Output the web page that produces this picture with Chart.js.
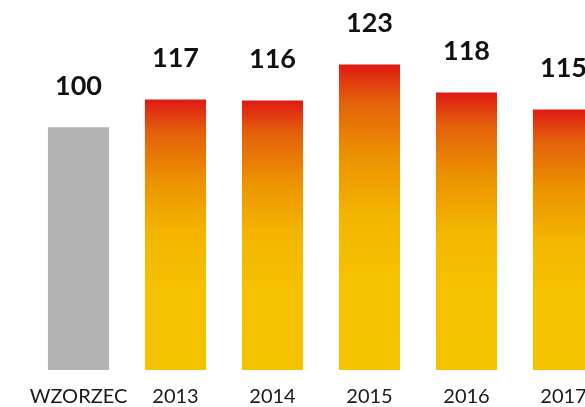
<!DOCTYPE html>
<html>
<head>
<meta charset="utf-8">
<script src="https://cdn.jsdelivr.net/npm/chart.js@4/dist/chart.umd.min.js"></script>
<style>
  html, body { margin: 0; padding: 0; background: #fff; overflow: hidden; }
  #wrap { width: 640px; height: 407px; overflow: hidden; }
</style>
</head>
<body>
<div id="wrap"><canvas id="chart" width="640" height="424"></canvas></div>
<script>
// categories shown on the x axis
var categories = ['WZORZEC', '2013', '2014', '2015', '2016', '2017'];
// bar heights (reference bar = 100)
var barHeights = [100, 111.5, 111.1, 125.9, 114.4, 107.4];
// numbers printed above the bars
var valueLabels = ['100', '117', '116', '123', '118', '115'];

var GREY = '#b3b3b3';

/**
 * Vertical gradient for one bar, red at its top and yellow at the base
 */
function barGradient(context) {
    var chart = context.chart;
    if (!chart.chartArea || context.dataIndex === undefined) {
        return '#f5c200';
    }
    if (context.dataIndex === 0) {
        return GREY;
    }
    var y = chart.scales.y;
    var top = y.getPixelForValue(barHeights[context.dataIndex]);
    var bottom = y.getPixelForValue(0);
    var g = chart.ctx.createLinearGradient(0, top, 0, bottom);
    g.addColorStop(0, '#df1a14');
    g.addColorStop(0.12, '#e4600c');
    g.addColorStop(0.3, '#ec9200');
    g.addColorStop(0.5, '#f3b600');
    g.addColorStop(0.7, '#f5c100');
    g.addColorStop(1, '#f5c200');
    return g;
}

// Draw the printed values above each bar
var valueLabelPlugin = {
    id: 'valueLabels',
    afterDatasetsDraw: function(chart) {
        var ctx = chart.ctx;
        var meta = chart.getDatasetMeta(0);
        ctx.save();
        ctx.font = 'bold 27px Lato';
        ctx.fillStyle = '#111';
        ctx.textAlign = 'center';
        ctx.textBaseline = 'alphabetic';
        meta.data.forEach(function(bar, i) {
            ctx.fillText(valueLabels[i], bar.x, bar.y - 32);
        });
        ctx.restore();
    }
};

new Chart(document.getElementById('chart'), {
    type: 'bar',
    data: {
        labels: categories,
        datasets: [{
            data: barHeights,
            backgroundColor: barGradient,
            borderWidth: 0,
            barPercentage: 0.63,
            categoryPercentage: 1
        }]
    },
    options: {
        responsive: false,
        animation: false,
        devicePixelRatio: 1,
        layout: {
            padding: { left: 30, right: 28, top: 6, bottom: 0 }
        },
        plugins: {
            legend: { display: false },
            tooltip: { enabled: false }
        },
        scales: {
            x: {
                grid: { display: false, drawTicks: false },
                border: { display: false },
                ticks: {
                    color: '#1a1a1a',
                    font: { family: 'Lato', size: 20 },
                    padding: 15,
                    maxRotation: 0,
                    autoSkip: false
                }
            },
            y: {
                display: false,
                min: 0,
                max: 150
            }
        }
    },
    plugins: [valueLabelPlugin]
});
</script>
</body>
</html>
